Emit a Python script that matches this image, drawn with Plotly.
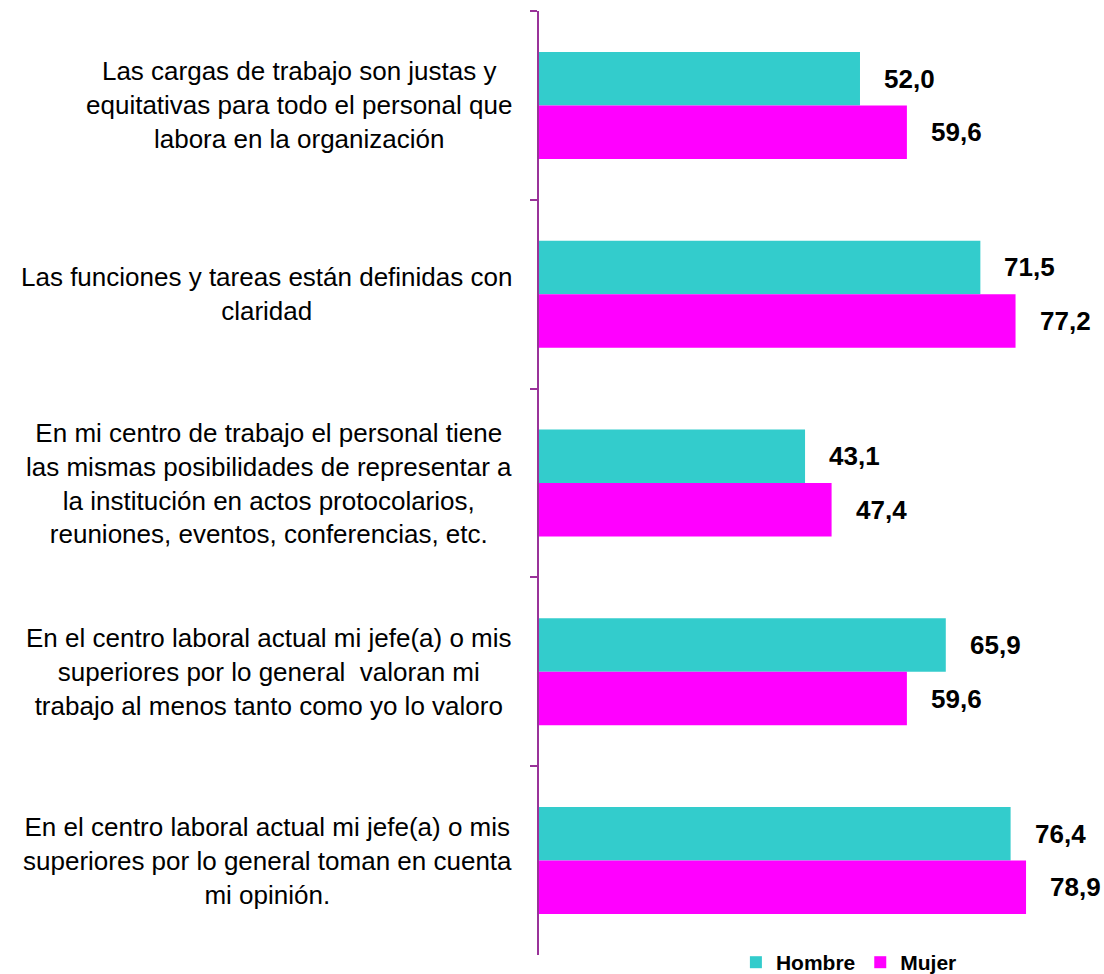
import plotly.graph_objects as go

categories = [
    "Las cargas de trabajo son justas y<br>equitativas para todo el personal que<br>labora en la organización",
    "Las funciones y tareas están definidas con<br>claridad",
    "En mi centro de trabajo el personal tiene<br>las mismas posibilidades de representar a<br>la institución en actos protocolarios,<br>reuniones, eventos, conferencias, etc.",
    "En el centro laboral actual mi jefe(a) o mis<br>superiores por lo general  valoran mi<br>trabajo al menos tanto como yo lo valoro",
    "En el centro laboral actual mi jefe(a) o mis<br>superiores por lo general toman en cuenta<br>mi opinión.",
]
hombre = [52.0, 71.5, 43.1, 65.9, 76.4]
mujer = [59.6, 77.2, 47.4, 59.6, 78.9]
series_names = ["Hombre", "Mujer"]
series_colors = ["#33CCCC", "#FF00FF"]

W, H = 1104, 974
M_L, M_R, M_T, M_B = 539, 15, 11, 19
X_MAX = 89.1
BARGAP = 0.433
FONT = "Liberation Sans, Arial, sans-serif"
AXIS_COLOR = "#993399"

fig = go.Figure()
for name, vals, col in zip(series_names, [hombre, mujer], series_colors):
    fig.add_trace(go.Bar(
        y=categories, x=vals, name=name, orientation="h",
        marker=dict(color=col, line=dict(width=0)),
        hoverinfo="x+name",
    ))

plot_h = H - M_T - M_B
cat_px = plot_h / len(categories)
bar_px = cat_px * (1 - BARGAP) / 2

annotations = []
for c in categories:
    annotations.append(dict(
        xref="paper", yref="y", x=0, y=c, xanchor="right", yanchor="middle",
        xshift=-25, text=c, align="center", showarrow=False,
        font=dict(family=FONT, size=26, color="#000000"),
    ))
for vals, shift in [(hombre, bar_px / 2), (mujer, -bar_px / 2)]:
    for c, v in zip(categories, vals):
        annotations.append(dict(
            xref="x", yref="y", x=v, y=c, xanchor="left", yanchor="middle",
            xshift=22, yshift=shift, showarrow=False,
            text="<b>" + f"{v:.1f}".replace(".", ",") + "</b>",
            font=dict(family=FONT, size=26, color="#000000"),
        ))

fig.update_layout(
    width=W, height=H,
    margin=dict(l=M_L, r=M_R, t=M_T, b=M_B, autoexpand=False),
    paper_bgcolor="white", plot_bgcolor="white",
    barmode="group", bargap=BARGAP, bargroupgap=0,
    font=dict(family=FONT, color="#000000"),
    xaxis=dict(range=[0, X_MAX], visible=False, showgrid=False, zeroline=False),
    yaxis=dict(
        autorange="reversed", showline=True, linecolor=AXIS_COLOR, linewidth=1.5,
        ticks="outside", tickson="boundaries", ticklen=7, tickcolor=AXIS_COLOR,
        tickwidth=1.5, showticklabels=False, showgrid=False, zeroline=False,
    ),
    legend=dict(
        orientation="h", x=0.358, y=-0.008, xanchor="left", yanchor="middle",
        font=dict(family=FONT, size=21, color="#000000", weight="bold"),
        bgcolor="rgba(0,0,0,0)", itemwidth=30, tracegroupgap=0,
    ),
    annotations=annotations,
    showlegend=True,
)

fig.write_html(
    "out.html",
    config={"displayModeBar": False},
    post_script="document.body.style.margin='0';document.body.style.padding='0';",
)
